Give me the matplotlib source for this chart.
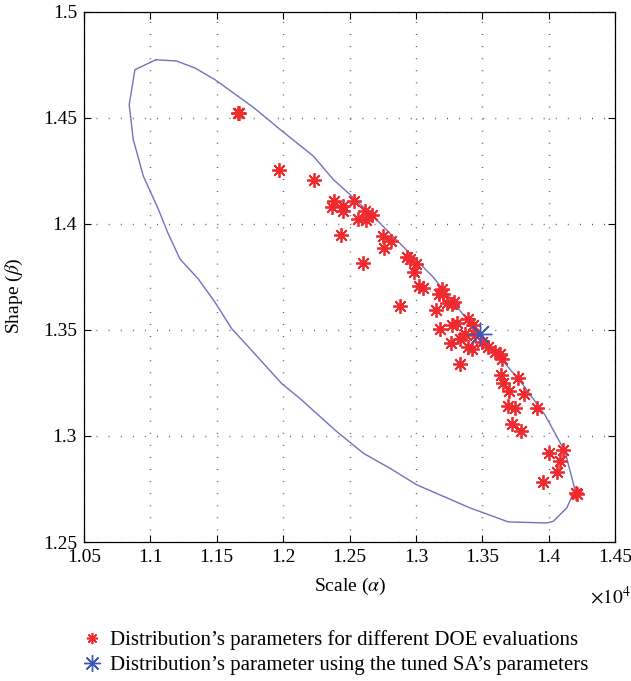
import matplotlib.pyplot as plt
from matplotlib.lines import Line2D

# scale values are in units of 1e4 (axis shows x10^4)
contour_scale = [1.1042, 1.1198, 1.1336, 1.1487, 1.1775, 1.1976, 1.2227, 1.2377, 1.2541,
                 1.2729, 1.3130, 1.3482, 1.3683, 1.3808, 1.3971, 1.4122, 1.4197, 1.4135,
                 1.4034, 1.3984, 1.3695, 1.3407, 1.3005, 1.2804, 1.2603, 1.2403, 1.2264,
                 1.2126, 1.1989, 1.1750, 1.1612, 1.1486, 1.1361, 1.1223, 1.1130, 1.1060,
                 1.0947, 1.0871, 1.0841, 1.0884, 1.1042]
contour_shape = [1.4773, 1.4767, 1.4734, 1.4679, 1.4549, 1.4445, 1.4319, 1.4209, 1.4116,
                 1.4003, 1.3748, 1.3474, 1.3333, 1.3239, 1.3099, 1.2927, 1.2746, 1.2661,
                 1.2598, 1.2590, 1.2595, 1.2661, 1.2770, 1.2848, 1.2919, 1.3021, 1.3099,
                 1.3177, 1.3247, 1.3412, 1.3506, 1.3631, 1.3740, 1.3834, 1.3960, 1.4069,
                 1.4225, 1.4398, 1.4562, 1.4726, 1.4773]

doe_scale = [1.1657, 1.1665, 1.1971, 1.2234, 1.2383, 1.2370, 1.2448, 1.2448, 1.2533, 1.2616,
             1.2566, 1.2623, 1.2666, 1.2435, 1.2599, 1.2754, 1.2809, 1.2759, 1.2930, 1.2955,
             1.3000, 1.2987, 1.3023, 1.3055, 1.2880, 1.3148, 1.3193, 1.3175, 1.3205, 1.3231,
             1.3268, 1.3286, 1.3181, 1.3268, 1.3306, 1.3394, 1.3431, 1.3369, 1.3331, 1.3263,
             1.3394, 1.3419, 1.3444, 1.3495, 1.3544, 1.3595, 1.3632, 1.3645, 1.3331, 1.3640,
             1.3657, 1.3770, 1.3702, 1.3813, 1.3695, 1.3745, 1.3909, 1.3720, 1.3788, 1.4004,
             1.4109, 1.4084, 1.4060, 1.3959, 1.4205, 1.4215]
doe_shape = [1.4523, 1.4520, 1.4254, 1.4205, 1.4108, 1.4080, 1.4082, 1.4061, 1.4108, 1.4061,
             1.4022, 1.4019, 1.4041, 1.3947, 1.3817, 1.3944, 1.3920, 1.3884, 1.3842, 1.3835,
             1.3811, 1.3772, 1.3706, 1.3697, 1.3612, 1.3596, 1.3693, 1.3670, 1.3667, 1.3628,
             1.3623, 1.3631, 1.3506, 1.3521, 1.3534, 1.3553, 1.3521, 1.3482, 1.3459, 1.3440,
             1.3420, 1.3412, 1.3474, 1.3443, 1.3420, 1.3396, 1.3388, 1.3365, 1.3337, 1.3286,
             1.3252, 1.3274, 1.3211, 1.3196, 1.3143, 1.3133, 1.3133, 1.3056, 1.3025, 1.2919,
             1.2934, 1.2883, 1.2828, 1.2783, 1.2731, 1.2728]

sa_scale = [1.3482]
sa_shape = [1.3482]

x_ticks = [1.05, 1.1, 1.15, 1.2, 1.25, 1.3, 1.35, 1.4, 1.45]
y_ticks = [1.25, 1.3, 1.35, 1.4, 1.45, 1.5]

RED = '#ee2a2e'
BLUE = '#3f56b8'
LINE = '#6f72bd'

plt.rcParams['font.family'] = ['Liberation Serif', 'DejaVu Serif']
plt.rcParams['mathtext.fontset'] = 'stix'

fig = plt.figure(figsize=(6.31, 6.81), dpi=100)
ax = fig.add_axes([0.133, 0.204, 0.842, 0.779])

ax.plot(contour_scale, contour_shape, color=LINE, lw=1.0, zorder=2)
ax.plot(doe_scale, doe_shape, ls='none', marker=(8, 2, 0), ms=10.5, mew=1.3,
        color=RED, zorder=3)
ax.plot(sa_scale, sa_shape, ls='none', marker=(8, 2, 0), ms=17, mew=1.0,
        color=BLUE, zorder=4)

ax.set_xlim(1.05, 1.45)
ax.set_ylim(1.25, 1.5)
ax.set_xticks(x_ticks)
ax.set_yticks(y_ticks)
ax.set_xticklabels([f'{v:g}' for v in x_ticks])
ax.set_yticklabels([f'{v:g}' for v in y_ticks])
ax.tick_params(direction='in', length=5, width=0.8, top=True, right=True,
               labelsize=14, pad=5)
for s in ax.spines.values():
    s.set_linewidth(0.9)
ax.grid(True, color='#555555', lw=1.0, ls=(0, (0.7, 8)))

ax.set_xlabel(r'Scale ($\alpha$)', fontsize=14, labelpad=7)
ax.set_ylabel(r'Shape ($\beta$)', fontsize=14)
ax.yaxis.set_label_coords(-0.11, 0.464)
fig.text(0.999, 1 - 597 / 681, r'$\times10^{4}$', ha='right', va='center', fontsize=14)

handles = [
    Line2D([], [], ls='none', marker=(8, 2, 0), ms=8, mew=1.2, color=RED),
    Line2D([], [], ls='none', marker=(8, 2, 0), ms=12, mew=1.0, color=BLUE),
]
labels = ["Distribution\u2019s parameters for different DOE evaluations",
          "Distribution\u2019s parameter using the tuned SA\u2019s parameters"]
fig.legend(handles, labels, loc='upper left', bbox_to_anchor=(0.115, 1 - 622 / 681),
           frameon=False, fontsize=15, handletextpad=0.3, handlelength=1.1,
           labelspacing=0.25, borderaxespad=0)

fig.savefig('out.png', dpi=100)
